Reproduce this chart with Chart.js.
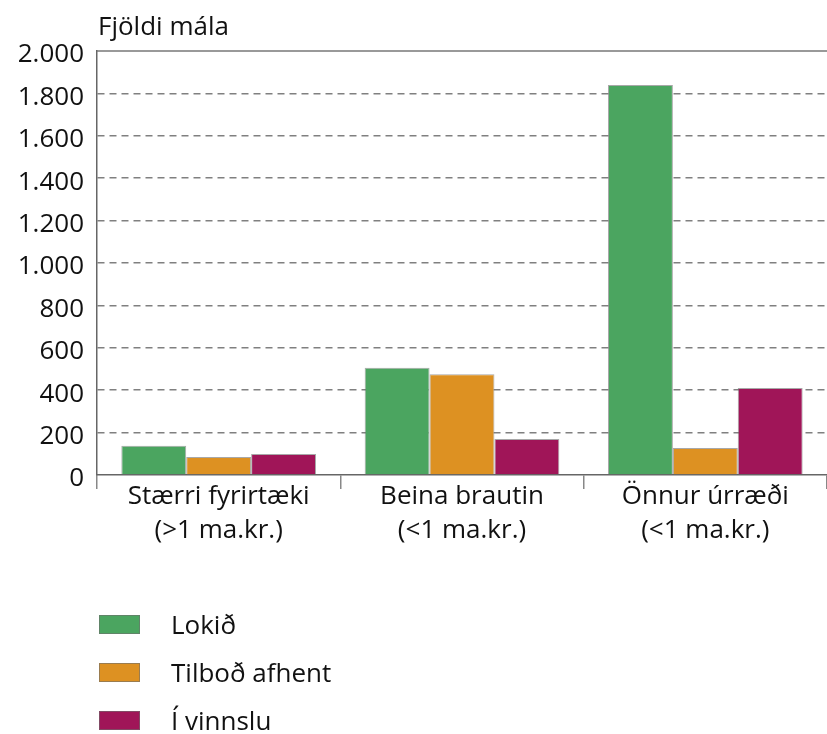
<!DOCTYPE html>
<html>
<head>
<meta charset="utf-8">
<script src="https://cdn.jsdelivr.net/npm/chart.js@4"></script>
<style>
  body { margin: 0; background: #fff; }
  #wrap { position: relative; width: 827px; height: 734px; }
  #chart { position: absolute; left: 0; top: 0; }
  .leg { position: absolute; left: 99px; height: 48px; display: flex; align-items: center;
         font-family: "Open Sans", sans-serif; font-size: 26px; color: #111; }
  .leg span.box { display: inline-block; width: 39px; height: 17px; margin-right: 31px;
                  border: 1px solid rgba(110,110,110,0.6); }
</style>
</head>
<body>
<div id="wrap">
  <canvas id="chart" width="827" height="734"></canvas>
  <div id="legend"></div>
</div>
<script>
const categories = [
  ["Stærri fyrirtæki", "(>1 ma.kr.)"],
  ["Beina brautin", "(<1 ma.kr.)"],
  ["Önnur úrræði", "(<1 ma.kr.)"]
];
const seriesNames = ["Lokið", "Tilboð afhent", "Í vinnslu"];
const lokid = [138, 506, 1840];
const tilbodAfhent = [85, 475, 127];
const iVinnslu = [99, 170, 410];
const colors = ["#4BA560", "#DD9122", "#A01558"];
const yTitle = "Fjöldi mála";

const font = { family: "'Open Sans', sans-serif", size: 26 };

// title above the y axis and solid top line
const frame = {
  id: "frame",
  afterDraw(chart) {
    const { ctx, chartArea } = chart;
    ctx.save();
    ctx.strokeStyle = "#777";
    ctx.lineWidth = 1.5;
    ctx.beginPath();
    ctx.moveTo(chartArea.left, chartArea.top);
    ctx.lineTo(chart.width, chartArea.top);
    ctx.stroke();
    ctx.fillStyle = "#111";
    ctx.font = "26px 'Open Sans', sans-serif";
    ctx.textBaseline = "alphabetic";
    ctx.fillText(yTitle, chartArea.left + 1, 35);
    ctx.restore();
  }
};

const datasets = [lokid, tilbodAfhent, iVinnslu].map((d, i) => ({
  label: seriesNames[i],
  data: d,
  backgroundColor: colors[i],
  borderColor: "rgba(110,110,110,0.6)",
  borderWidth: 1,
  categoryPercentage: 0.8,
  barPercentage: 1.0
}));

const chart = new Chart(document.getElementById("chart"), {
  type: "bar",
  data: { labels: categories, datasets: datasets },
  options: {
    responsive: false,
    animation: false,
    layout: { padding: { top: 51, left: 0, right: 0, bottom: 0 } },
    plugins: { legend: { display: false }, tooltip: { enabled: false } },
    scales: {
      x: {
        afterFit: (s) => { s.height = 259; },
        grid: { offset: true, drawOnChartArea: false, drawTicks: true, tickLength: 14, color: "#888", lineWidth: 1.5 },
        border: { color: "#666", width: 1.5 },
        ticks: { font: { family: font.family, size: 26, lineHeight: 1.3 }, color: "#111", padding: -9, maxRotation: 0 }
      },
      y: {
        min: 0,
        max: 2000,
        afterFit: (s) => { s.width = 97; },
        grid: {
          drawTicks: false,
          color: (c) => (c.tick && (c.tick.value === 0 || c.tick.value === 2000)) ? "rgba(0,0,0,0)" : "#808080",
          lineWidth: 1.5
        },
        border: { color: "#666", width: 1.5, dash: [7, 5] },
        ticks: {
          stepSize: 200,
          font: font,
          color: "#111",
          padding: 13,
          labelOffset: 4,
          callback: (v) => String(v).replace(/\B(?=(\d{3})+(?!\d))/g, ".")
        }
      }
    }
  },
  plugins: [frame]
});

// legend built from datasets
const legend = document.getElementById("legend");
chart.data.datasets.forEach((ds, i) => {
  const row = document.createElement("div");
  row.className = "leg";
  row.style.top = (600 + i * 48) + "px";
  const box = document.createElement("span");
  box.className = "box";
  box.style.background = ds.backgroundColor;
  row.appendChild(box);
  row.appendChild(document.createTextNode(ds.label));
  legend.appendChild(row);
});
</script>
</body>
</html>
